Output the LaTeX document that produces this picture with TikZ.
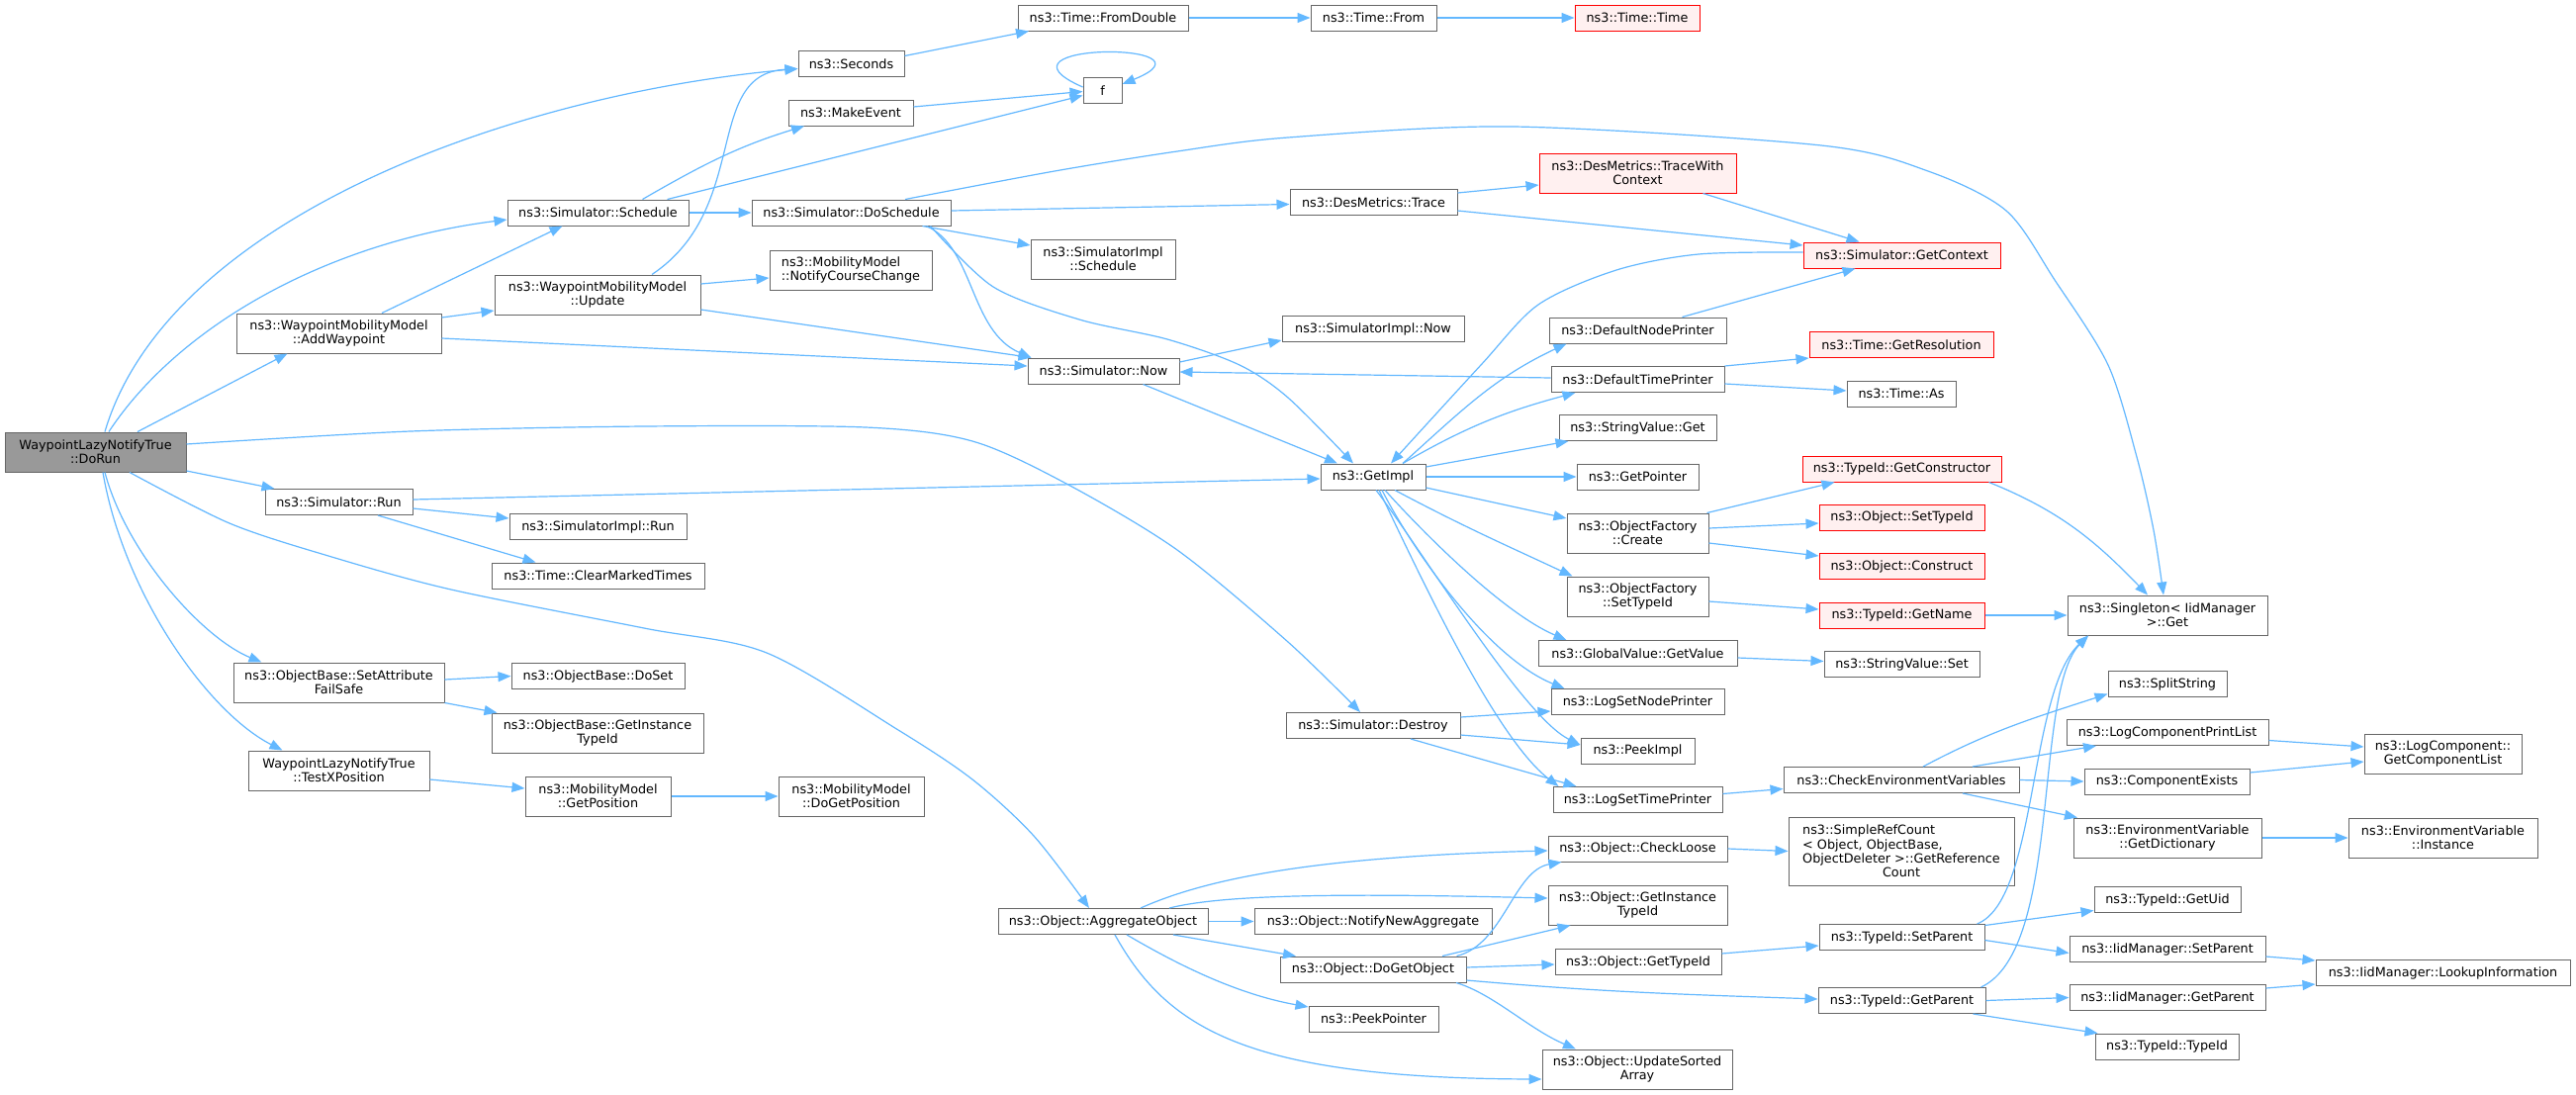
\documentclass[tikz,border=0pt]{standalone}
\usepackage{fontspec}
\setmainfont{DejaVu Sans}
\usepackage{calc}
\usepackage{tikz}
\usetikzlibrary{positioning,arrows.meta}
\definecolor{callblue}{HTML}{63B8FF}
\definecolor{boxgray}{HTML}{666666}
\definecolor{rootgray}{HTML}{999999}
\definecolor{redfill}{HTML}{FFF0F0}
\tikzset{
  fn/.style={draw=boxgray, fill=white, line width=1pt, inner xsep=2pt, inner ysep=0pt, minimum height=26pt, align=center, font=\fontsize{12.8}{14.3}\selectfont},
  fn2/.style={fn, minimum height=40pt},
  fnred/.style={fn, draw=red, fill=redfill},
  fnred2/.style={fnred, minimum height=40pt},
  fnroot/.style={fn2, fill=rootgray},
  call/.style={draw=callblue, line width=1.2pt, -{Triangle[length=13pt,width=10pt]}}
}
\begin{document}
\begin{tikzpicture}[x=1pt,y=1pt]
\fill[white] (0,0) rectangle (2604,-1106);
\node[fnroot, minimum width=183] (dorun) at (96.5,-457) {WaypointLazyNotifyTrue\\::DoRun};
\node[fn, minimum width=183] (sched) at (604.5,-215) {ns3::Simulator::Schedule};
\node[fn2, minimum width=207] (addwp) at (342.5,-337) {ns3::WaypointMobilityModel\\::AddWaypoint};
\node[fn, minimum width=149] (run) at (342.5,-507.5) {ns3::Simulator::Run};
\node[fn2, minimum width=213] (setattr) at (342.5,-690) {ns3::ObjectBase::SetAttribute\\FailSafe};
\node[fn2, minimum width=183] (testx) at (342.5,-779) {WaypointLazyNotifyTrue\\::TestXPosition};
\node[fn, minimum width=107] (seconds) at (860.5,-64.5) {ns3::Seconds};
\node[fn, minimum width=126] (makeev) at (860,-114) {ns3::MakeEvent};
\node[fn2, minimum width=208] (update) at (604,-298) {ns3::WaypointMobilityModel\\::Update};
\node[fn, minimum width=201] (dosched) at (860.5,-215) {ns3::Simulator::DoSchedule};
\node[fn2, minimum width=164, align=left] (notify) at (860,-273) {ns3::MobilityModel\\::NotifyCourseChange};
\node[fn, minimum width=179] (simrun) at (604.5,-532.5) {ns3::SimulatorImpl::Run};
\node[fn, minimum width=215] (clear) at (604.5,-582) {ns3::Time::ClearMarkedTimes};
\node[fn, minimum width=175] (doset) at (604.5,-683.5) {ns3::ObjectBase::DoSet};
\node[fn2, minimum width=214] (obgetinst) at (604,-741) {ns3::ObjectBase::GetInstance\\TypeId};
\node[fn2, minimum width=147] (getpos) at (604.5,-805) {ns3::MobilityModel\\::GetPosition};
\node[fn2, minimum width=147] (dogetpos) at (860.5,-805) {ns3::MobilityModel\\::DoGetPosition};
\node[fn, minimum width=39] (f) at (1114.5,-91.5) {f};
\node[fn, minimum width=172] (fromdbl) at (1115,-18) {ns3::Time::FromDouble};
\node[fn, minimum width=153] (now) at (1115.5,-375) {ns3::Simulator::Now};
\node[fn2, minimum width=146] (implsched) at (1115,-262) {ns3::SimulatorImpl\\::Schedule};
\node[fn, minimum width=212] (aggr) at (1115,-931.5) {ns3::Object::AggregateObject};
\node[fn, minimum width=127] (timefrom) at (1388.5,-18) {ns3::Time::From};
\node[fn, minimum width=169] (trace) at (1388.5,-204.5) {ns3::DesMetrics::Trace};
\node[fn, minimum width=184] (implnow) at (1388,-332.5) {ns3::SimulatorImpl::Now};
\node[fn, minimum width=106] (getimpl) at (1388,-482) {ns3::GetImpl};
\node[fn, minimum width=176] (destroy) at (1388,-733.5) {ns3::Simulator::Destroy};
\node[fn, minimum width=240] (notifyagg) at (1388,-931.5) {ns3::Object::NotifyNewAggregate};
\node[fn, minimum width=188] (dogetobj) at (1388,-980) {ns3::Object::DoGetObject};
\node[fn, minimum width=131] (peekptr) at (1388.5,-1030) {ns3::PeekPointer};
\node[fnred, minimum width=126] (timetime) at (1655,-18) {ns3::Time::Time};
\node[fnred2, minimum width=199] (tracectx) at (1655.5,-175) {ns3::DesMetrics::TraceWith\\Context};
\node[fn, minimum width=179] (dnp) at (1655.5,-334) {ns3::DefaultNodePrinter};
\node[fn, minimum width=175] (dtp) at (1655.5,-383.5) {ns3::DefaultTimePrinter};
\node[fn, minimum width=159] (svget) at (1655.5,-432.5) {ns3::StringValue::Get};
\node[fn, minimum width=123] (getptr) at (1655.5,-482) {ns3::GetPointer};
\node[fn2, minimum width=143] (ofcreate) at (1655.5,-539) {ns3::ObjectFactory\\::Create};
\node[fn2, minimum width=143] (ofsettid) at (1655.5,-603) {ns3::ObjectFactory\\::SetTypeId};
\node[fn, minimum width=201] (gvget) at (1655.5,-660.5) {ns3::GlobalValue::GetValue};
\node[fn, minimum width=175] (logsnp) at (1655.5,-709.5) {ns3::LogSetNodePrinter};
\node[fn, minimum width=115] (peekimpl) at (1655.5,-759) {ns3::PeekImpl};
\node[fn, minimum width=171] (logstp) at (1655.5,-808.5) {ns3::LogSetTimePrinter};
\node[fn, minimum width=181] (checkloose) at (1655.5,-858) {ns3::Object::CheckLoose};
\node[fn2, minimum width=181] (obinsttid) at (1655.5,-915) {ns3::Object::GetInstance\\TypeId};
\node[fn, minimum width=168] (objgettid) at (1656,-972.5) {ns3::Object::GetTypeId};
\node[fn2, minimum width=192] (updsorted) at (1655,-1081) {ns3::Object::UpdateSorted\\Array};
\node[fnred, minimum width=199] (getctx) at (1922.5,-258) {ns3::Simulator::GetContext};
\node[fnred, minimum width=186] (getres) at (1922,-348.5) {ns3::Time::GetResolution};
\node[fn, minimum width=110] (timeas) at (1922,-398) {ns3::Time::As};
\node[fnred, minimum width=201] (getctor) at (1922.5,-474) {ns3::TypeId::GetConstructor};
\node[fnred, minimum width=167] (objsettid) at (1922.5,-523) {ns3::Object::SetTypeId};
\node[fnred, minimum width=167] (construct) at (1922.5,-572.5) {ns3::Object::Construct};
\node[fnred, minimum width=167] (getname) at (1922.5,-622) {ns3::TypeId::GetName};
\node[fn, minimum width=157] (svset) at (1922.5,-671.5) {ns3::StringValue::Set};
\node[fn, minimum width=238] (checkenv) at (1922,-788.5) {ns3::CheckEnvironmentVariables};
\node[fn, minimum width=228, minimum height=69] (simpleref) at (1922,-860.5) {\makebox[\widthof{ObjectDeleter >::GetReference}][l]{ns3::SimpleRefCount}\\\makebox[\widthof{ObjectDeleter >::GetReference}][l]{< Object, ObjectBase,}\\ObjectDeleter >::GetReference\\Count};
\node[fn, minimum width=167] (tidsetpar) at (1922.5,-947.5) {ns3::TypeId::SetParent};
\node[fn, minimum width=169] (tidgetpar) at (1922.5,-1011.5) {ns3::TypeId::GetParent};
\node[fn2, minimum width=202] (singleton) at (2191,-622) {ns3::Singleton< IidManager\\>::Get};
\node[fn, minimum width=120] (splitstr) at (2191,-691.5) {ns3::SplitString};
\node[fn, minimum width=204] (logcpl) at (2191,-740.5) {ns3::LogComponentPrintList};
\node[fn, minimum width=167] (compexists) at (2190.5,-790) {ns3::ComponentExists};
\node[fn2, minimum width=190] (getdict) at (2191,-847) {ns3::EnvironmentVariable\\::GetDictionary};
\node[fn, minimum width=148] (getuid) at (2191,-909.5) {ns3::TypeId::GetUid};
\node[fn, minimum width=198] (iidsetpar) at (2191,-959.5) {ns3::IidManager::SetParent};
\node[fn, minimum width=198] (iidgetpar) at (2191,-1008.5) {ns3::IidManager::GetParent};
\node[fn, minimum width=145] (tidtid) at (2190.5,-1058) {ns3::TypeId::TypeId};
\node[fn2, minimum width=159] (getcomplist) at (2469.5,-762) {ns3::LogComponent::\\GetComponentList};
\node[fn2, minimum width=191] (envinst) at (2469.5,-847) {ns3::EnvironmentVariable\\::Instance};
\node[fn, minimum width=257] (lookup) at (2469.5,-983.5) {ns3::IidManager::LookupInformation};
\draw[call] ([xshift=9.5]dorun.north) .. controls (170,-220) and (520,-95) .. ([yshift=-5]seconds.west);
\draw[call] ([xshift=13.5]dorun.north) .. controls (180,-330) and (330,-245) .. ([yshift=-7]sched.west);
\draw[call] ([xshift=42.5]dorun.north) -- ([xshift=-52]addwp.south);
\draw[call] ([yshift=-19]dorun.east) -- ([xshift=10]run.north west);
\draw[call] plot[smooth] coordinates {([yshift=8]dorun.east) (415,-436) (651,-431) (875,-432) (983,-446) (1078,-489) (1190,-556) (1302,-649) ([xshift=-13]destroy.north)};
\draw[call] plot[smooth] coordinates {([xshift=34.5]dorun.south) (232,-529) (332,-562) (456,-596) (651,-635) (775,-660) (908,-738) (983,-788) (1045,-845) ([xshift=-14]aggr.north)};
\draw[call] ([xshift=9.5]dorun.south) .. controls (128,-560) and (205,-645) .. ([xshift=-78]setattr.north);
\draw[call] ([xshift=7.5]dorun.south) .. controls (125,-600) and (210,-720) .. ([xshift=-57]testx.north);
\draw[call] ([xshift=43.5]addwp.north) -- ([xshift=-36]sched.south);
\draw[call] ([yshift=16]addwp.east) -- ([yshift=-16]update.west);
\draw[call] ([yshift=-5]addwp.east) -- ([yshift=5]now.west);
\draw[call] ([xshift=55]update.north) .. controls (760,-210) and (710,-75) .. ([yshift=-5]seconds.west);
\draw[call] ([yshift=11]update.east) -- ([yshift=-8]notify.west);
\draw[call] ([yshift=-15]update.east) -- ([xshift=4]now.north west);
\draw[call] ([xshift=45]sched.north) to[out=30,in=197] ([xshift=-47]makeev.south);
\draw[call] ([xshift=70]sched.north) -- ([yshift=-5]f.west);
\draw[call] (sched.east) -- (dosched.west);
\draw[call] ([yshift=6]makeev.east) -- ([yshift=-1]f.west);
\draw[call] ([yshift=3.5]f.west) .. controls +(-105,46) and +(106,43) .. ([yshift=6.5]f.east);
\draw[call] ([yshift=8]seconds.east) -- ([xshift=-75]fromdbl.south);
\draw[call] (fromdbl.east) -- (timefrom.west);
\draw[call] (timefrom.east) -- (timetime.west);
\draw[call] plot[smooth] coordinates {([xshift=54.5]dosched.north) (1066,-173) (1190,-153) (1302,-139) (1530,-128) (1841,-147) (1949,-173) (2028,-213) (2077,-283) (2131,-369) (2160,-462) (2177,-536) ([xshift=-4]singleton.north)};
\draw[call] ([yshift=2]dosched.east) -- ([yshift=-2]trace.west);
\draw[call] ([xshift=72]dosched.south) -- ([yshift=14]implsched.west);
\draw[call] ([xshift=76]dosched.south) .. controls (985,-250) and (980,-335) .. ([xshift=4]now.north west);
\draw[call] plot[smooth] coordinates {([xshift=80]dosched.south) (1004,-290) (1091,-323) (1180,-343) (1253,-369) (1302,-402) ([xshift=-20]getimpl.north)};
\draw[call] ([yshift=9.5]trace.east) -- ([yshift=-12]tracectx.west);
\draw[call] ([yshift=-8.5]trace.east) -- ([yshift=10]getctx.west);
\draw[call] ([xshift=66]tracectx.south) -- ([xshift=-43]getctx.north);
\draw[call] plot[smooth] coordinates {([yshift=3]getctx.west) (1717,-257) (1634,-273) (1555,-308) (1497,-369) ([xshift=18]getimpl.north)};
\draw[call] ([xshift=45]dnp.north) -- ([xshift=-47]getctx.south);
\draw[call] ([xshift=30]getimpl.north) to[out=42,in=205] ([xshift=-72]dnp.south);
\draw[call] ([xshift=30]getimpl.north) to[out=30,in=195] ([xshift=-63]dtp.south);
\draw[call] ([yshift=1.5]dtp.west) -- ([yshift=-1]now.east);
\draw[call] (dtp.north east) -- ([yshift=-13.5]getres.west);
\draw[call] ([yshift=-4.5]dtp.east) -- ([yshift=3]timeas.west);
\draw[call] ([yshift=9]now.east) -- ([yshift=2]implnow.south west);
\draw[call] ([xshift=40]now.south) -- ([xshift=-36]getimpl.north);
\draw[call] ([yshift=2.5]run.east) -- ([yshift=-2]getimpl.west);
\draw[call] ([yshift=-6.5]run.east) -- ([yshift=8.5]simrun.west);
\draw[call] ([xshift=39.5]run.south) -- ([xshift=-63]clear.north);
\draw[call] ([yshift=3]setattr.east) -- (doset.west);
\draw[call] (setattr.south east) -- ([xshift=6]obgetinst.north west);
\draw[call] ([yshift=-9]testx.east) -- ([yshift=8]getpos.west);
\draw[call] (getpos.east) -- (dogetpos.west);
\draw[call] ([yshift=10]getimpl.east) -- ([xshift=-70]svget.south);
\draw[call] (getimpl.east) -- (getptr.west);
\draw[call] ([yshift=-11]getimpl.east) -- ([yshift=15]ofcreate.west);
\draw[call] ([xshift=22]getimpl.south) to[out=-28,in=155] ([xshift=-66]ofsettid.north);
\draw[call] ([xshift=12]getimpl.south) .. controls (1440,-540) and (1520,-620) .. ([xshift=-72]gvget.north);
\draw[call] ([xshift=9]getimpl.south) .. controls (1430,-560) and (1505,-665) .. ([xshift=-74]logsnp.north);
\draw[call] ([xshift=6]getimpl.south) .. controls (1430,-570) and (1510,-745) .. ([xshift=-80]logstp.north);
\draw[call] ([xshift=3]getimpl.south) .. controls (1440,-560) and (1540,-725) .. ([yshift=6]peekimpl.west);
\draw[call] ([xshift=70]ofcreate.north) -- ([xshift=-68]getctor.south);
\draw[call] ([yshift=5]ofcreate.east) -- ([yshift=-6]objsettid.west);
\draw[call] ([yshift=-10]ofcreate.east) -- ([yshift=10.5]construct.west);
\draw[call] ([yshift=-5]ofsettid.east) -- ([yshift=6]getname.west);
\draw[call] ([yshift=-4.5]gvget.east) -- ([yshift=3]svset.west);
\draw[call] ([xshift=88]getctor.south) to[out=-22,in=134] ([xshift=-20]singleton.north);
\draw[call] (getname.east) -- (singleton.west);
\draw[call] ([yshift=8.5]destroy.east) -- ([yshift=-9.5]logsnp.west);
\draw[call] ([yshift=-9.5]destroy.east) -- ([yshift=6]peekimpl.west);
\draw[call] ([xshift=38]destroy.south) -- ([xshift=-62]logstp.north);
\draw[call] ([yshift=6]logstp.east) -- ([yshift=-9]checkenv.west);
\draw[call] ([xshift=22]checkenv.north) to[out=28,in=198] ([yshift=-10]splitstr.west);
\draw[call] ([xshift=72]checkenv.north) -- ([xshift=-72]logcpl.south);
\draw[call] (checkenv.east) -- (compexists.west);
\draw[call] ([xshift=62]checkenv.south) -- ([xshift=-91]getdict.north);
\draw[call] ([yshift=-8]logcpl.east) -- ([yshift=7]getcomplist.west);
\draw[call] ([yshift=9]compexists.east) -- ([yshift=-8]getcomplist.west);
\draw[call] (getdict.east) -- (envinst.west);
\draw[call] ([xshift=38]aggr.north) .. controls (1220,-888) and (1330,-866) .. ([yshift=-2]checkloose.west);
\draw[call] ([xshift=67]aggr.north) .. controls (1230,-906) and (1330,-902) .. ([yshift=7]obinsttid.west);
\draw[call] (aggr.east) -- (notifyagg.west);
\draw[call] ([xshift=71]aggr.south) -- ([xshift=-78]dogetobj.north);
\draw[call] ([xshift=24]aggr.south) .. controls (1190,-975) and (1250,-1005) .. ([yshift=12]peekptr.west);
\draw[call] ([xshift=12]aggr.south) .. controls (1180,-1040) and (1260,-1090) .. ([yshift=-10]updsorted.west);
\draw[call] ([xshift=-10]dogetobj.north east) .. controls (1520,-955) and (1530,-880) .. ([xshift=-77]checkloose.south);
\draw[call] ([xshift=70]dogetobj.north) -- ([xshift=-68]obinsttid.south);
\draw[call] ([yshift=2]dogetobj.east) -- ([yshift=-2.5]objgettid.west);
\draw[call] ([yshift=-11]dogetobj.east) to[out=-5,in=178] ([yshift=1.5]tidgetpar.west);
\draw[call] ([xshift=84]dogetobj.south) .. controls (1510,-1005) and (1545,-1040) .. ([xshift=-62]updsorted.north);
\draw[call] (checkloose.east) -- (simpleref.west);
\draw[call] ([yshift=8.5]objgettid.east) -- ([yshift=-8.5]tidsetpar.west);
\draw[call] ([xshift=76]tidsetpar.north) .. controls (2060,-910) and (2050,-700) .. ([xshift=-80]singleton.south);
\draw[call] ([xshift=80]tidgetpar.north) .. controls (2085,-960) and (2055,-700) .. ([xshift=-80]singleton.south);
\draw[call] ([yshift=12]tidsetpar.east) -- ([yshift=-11]getuid.west);
\draw[call] ([yshift=-3]tidsetpar.east) -- ([yshift=-4]iidsetpar.west);
\draw[call] (tidgetpar.east) -- (iidgetpar.west);
\draw[call] ([xshift=72]tidgetpar.south) -- ([xshift=-70]tidtid.north);
\draw[call] ([yshift=-7.5]iidsetpar.east) -- ([yshift=12.5]lookup.west);
\draw[call] ([yshift=9.5]iidgetpar.east) -- ([yshift=-11.5]lookup.west);
\end{tikzpicture}
\end{document}
